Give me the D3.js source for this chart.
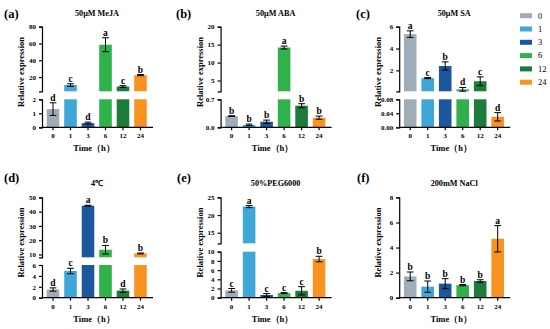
<!DOCTYPE html>
<meta charset="utf-8">
<style>
body { margin: 0; background: #fff; }
text { font-family: "Liberation Serif", "Times New Roman", serif; font-weight: bold; fill: #000; }
.axis path, .axis line { stroke: #000; stroke-width: 1.2px; }
.axis text { font-size: 7px; }
</style>
<body>
<script src="https://d3js.org/d3.v7.min.js"></script>
<script>

// time points (h)
var times = ["0", "1", "3", "6", "12", "24"];

// (a) 50uM MeJA
var mejaMean = [1.3, 10.5, 0.3, 58.5, 8.7, 22.3];
var mejaErr  = [0.45, 1.5, 0.07, 8.3, 1.0, 0.7];
var mejaSig  = ["d", "c", "d", "a", "c", "b"];
var mejaTicksLow = [0, 1, 2], mejaTicksHigh = [20, 40, 60, 80];

// (b) 50uM ABA
var abaMean = [0.28, 0.06, 0.14, 14.2, 0.54, 0.24];
var abaErr  = [0.01, 0.02, 0.04, 0.4, 0.05, 0.04];
var abaSig  = ["b", "b", "b", "a", "b", "b"];
var abaTicksLow = [0, 0.7], abaTicksHigh = [5, 10, 15, 20];

// (c) 50uM SA
var saMean = [5.32, 1.29, 2.4, 0.26, 1.0, 0.03];
var saErr  = [0.3, 0.05, 0.38, 0.17, 0.4, 0.012];
var saSig  = ["a", "c", "b", "d", "c", "d"];
var saTicksLow = [0, 0.04, 0.08], saTicksHigh = [2, 4, 6];

// (d) 4 degC
var coldMean = [1.5, 4.9, 44.2, 13.3, 1.3, 10.7];
var coldErr  = [0.3, 0.5, 0.3, 3.0, 0.3, 0.3];
var coldSig  = ["d", "c", "a", "b", "d", "b"];
var coldTicksLow = [0, 2, 4, 6], coldTicksHigh = [10, 20, 30, 40, 50];

// (e) 50% PEG6000
var pegMean = [1.6, 22.4, 0.6, 1.0, 1.5, 8.4];
var pegErr  = [0.4, 0.3, 0.3, 0.1, 0.9, 0.6];
var pegSig  = ["c", "a", "c", "c", "c", "b"];
var pegTicksLow = [0, 2, 4, 6, 8, 10], pegTicksHigh = [15, 20, 25];

// (f) 200mM NaCl
var naclMean = [1.7, 0.88, 1.12, 1.0, 1.33, 4.7];
var naclErr  = [0.35, 0.45, 0.4, 0.05, 0.1, 1.05];
var naclSig  = ["b", "b", "b", "b", "b", "a"];
var naclTicks = [0, 2, 4, 6, 8];

var colors = ["#9fadb8", "#3ea7d8", "#1b579c", "#2fb24c", "#1d7b3b", "#f7931e"];

// layout of the six panels
var colX = [42, 220.6, 399.2];
var rows = [{top: 26.7, bottom: 127.3}, {top: 197.4, bottom: 297.7}];

var panels = [
  {tag: "(a)", tagX: 4, tagY: 18, title: "50μM MeJA", col: 0, row: 0,
   mean: mejaMean, err: mejaErr, sig: mejaSig,
   low: [0, 2], lowTicks: mejaTicksLow, lowFmt: d3.format("d"),
   high: [3, 80], highTicks: mejaTicksHigh, upBottom: 91.3, lowTop: 99.3},
  {tag: "(b)", tagX: 176, tagY: 18, title: "50μM ABA", col: 1, row: 0,
   mean: abaMean, err: abaErr, sig: abaSig,
   low: [0, 0.7], lowTicks: abaTicksLow, lowFmt: d3.format(".1f"),
   high: [2, 20], highTicks: abaTicksHigh, upBottom: 91.3, lowTop: 99.3},
  {tag: "(c)", tagX: 356, tagY: 18, title: "50μM SA", col: 2, row: 0,
   mean: saMean, err: saErr, sig: saSig,
   low: [0, 0.08], lowTicks: saTicksLow, lowFmt: d3.format(".2f"),
   high: [0.08, 6], highTicks: saTicksHigh, upBottom: 91.3, lowTop: 99.3},
  {tag: "(d)", tagX: 4, tagY: 181.5, title: "4℃", col: 0, row: 1,
   mean: coldMean, err: coldErr, sig: coldSig,
   low: [0, 6], lowTicks: coldTicksLow, lowFmt: d3.format("d"),
   high: [8, 50], highTicks: coldTicksHigh, upBottom: 257.3, lowTop: 265},
  {tag: "(e)", tagX: 177, tagY: 181.5, title: "50%PEG6000", col: 1, row: 1,
   mean: pegMean, err: pegErr, sig: pegSig,
   low: [0, 10], lowTicks: pegTicksLow, lowFmt: d3.format("d"),
   high: [12, 25], highTicks: pegTicksHigh, upBottom: 243.3, lowTop: 251.7},
  {tag: "(f)", tagX: 357, tagY: 181.5, title: "200mM NaCl", col: 2, row: 1,
   mean: naclMean, err: naclErr, sig: naclSig,
   low: [0, 8], lowTicks: naclTicks, lowFmt: d3.format("d"),
   high: null}
];

var svg = d3.select("body").append("svg")
    .attr("width", 550)
    .attr("height", 329);

panels.forEach(function(p) {
  var ax = colX[p.col], r = rows[p.row];
  var g = svg.append("g");

  var x = d3.scaleBand().domain(times)
      .range([ax, ax + 109.5]).paddingInner(0.28).paddingOuter(0.27);

  var lowTop = p.high ? p.lowTop : r.top;
  var yL = d3.scaleLinear().domain(p.low).range([r.bottom, lowTop]);
  var yU = p.high ? d3.scaleLinear().domain(p.high).range([p.upBottom, r.top]) : null;

  var rowsData = times.map(function(t, i) {
    return {t: t, v: p.mean[i], e: p.err[i], s: p.sig[i], c: colors[i]};
  });

  // bars, lower segment
  g.selectAll(".barL").data(rowsData).enter().append("rect")
      .attr("x", function(d) { return x(d.t); })
      .attr("width", x.bandwidth())
      .attr("y", function(d) { return yL(Math.min(d.v, p.low[1])); })
      .attr("height", function(d) { return yL(0) - yL(Math.min(d.v, p.low[1])); })
      .attr("fill", function(d) { return d.c; });

  // bars, upper segment
  if (yU) {
    g.selectAll(".barU").data(rowsData.filter(function(d) { return d.v > p.low[1]; }))
      .enter().append("rect")
        .attr("x", function(d) { return x(d.t); })
        .attr("width", x.bandwidth())
        .attr("y", function(d) { return yU(d.v); })
        .attr("height", function(d) { return p.upBottom - yU(d.v); })
        .attr("fill", function(d) { return d.c; });
  }

  function yOf(d, v) {
    return (yU && d.v > p.low[1]) ? yU(v) : yL(v);
  }

  // error bars
  var cap = 3.4;
  rowsData.forEach(function(d) {
    var cx = x(d.t) + x.bandwidth() / 2;
    var y1 = yOf(d, d.v + d.e), y0 = yOf(d, Math.max(0, d.v - d.e));
    g.append("line").attr("x1", cx).attr("x2", cx).attr("y1", y1).attr("y2", y0)
        .attr("stroke", "#000").attr("stroke-width", 1);
    g.append("line").attr("x1", cx - cap).attr("x2", cx + cap).attr("y1", y1).attr("y2", y1)
        .attr("stroke", "#000").attr("stroke-width", 1);
    g.append("line").attr("x1", cx - cap).attr("x2", cx + cap).attr("y1", y0).attr("y2", y0)
        .attr("stroke", "#000").attr("stroke-width", 1);
    // significance letters
    g.append("text")
        .attr("x", cx)
        .attr("y", y1 - 2)
        .style("text-anchor", "middle")
        .attr("font-size", 9.5)
        .text(d.s);
  });

  // y axes
  g.append("g").attr("class", "axis")
      .attr("transform", "translate(" + ax + ",0)")
      .call(d3.axisLeft(yL).tickValues(p.lowTicks).tickFormat(p.lowFmt).tickSize(3).tickSizeOuter(3));
  if (yU) {
    g.append("g").attr("class", "axis")
        .attr("transform", "translate(" + ax + ",0)")
        .call(d3.axisLeft(yU).tickValues(p.highTicks).tickFormat(d3.format("d")).tickSize(3).tickSizeOuter(3));
  }

  // x axis
  g.append("g").attr("class", "axis")
      .attr("transform", "translate(0," + r.bottom + ")")
      .call(d3.axisBottom(x).tickSize(3).tickSizeOuter(0))
      .call(function(a) { a.select(".domain").attr("d", "M" + ax + ",0H" + (ax + 111)); });

  // labels
  g.append("text")
      .attr("x", ax + 52)
      .attr("y", r.bottom + 24)
      .style("text-anchor", "middle")
      .attr("font-size", 8.5)
      .text("Time（h）");

  g.append("text")
      .attr("transform", "translate(" + (ax - 18) + "," + ((r.top + r.bottom) / 2 - 5) + ") rotate(-90)")
      .style("text-anchor", "middle")
      .attr("font-size", 8.5)
      .text("Relative expression");

  g.append("text")
      .attr("x", ax + 55)
      .attr("y", r.top - 11)
      .style("text-anchor", "middle")
      .attr("font-size", 8.2)
      .text(p.title);

  g.append("text")
      .attr("x", p.tagX)
      .attr("y", p.tagY)
      .attr("font-size", 12.5)
      .text(p.tag);
});

// legend
var legend = svg.append("g");
times.forEach(function(t, i) {
  legend.append("rect")
      .attr("x", 520).attr("y", 13.2 + i * 13.3)
      .attr("width", 12).attr("height", 5)
      .attr("fill", colors[i]);
  legend.append("text")
      .attr("x", 538).attr("y", 18.5 + i * 13.3)
      .attr("font-size", 8.5)
      .style("font-weight", "normal")
      .text(t);
});

</script>
</body>
